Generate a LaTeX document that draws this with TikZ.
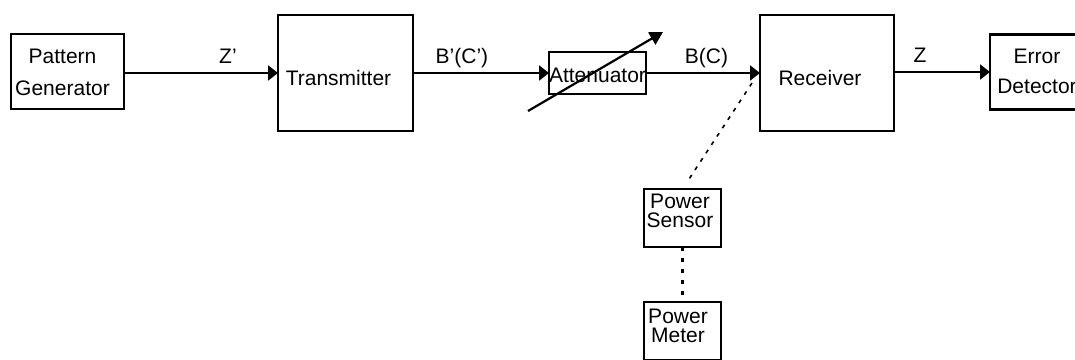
\documentclass[tikz,border=0pt]{standalone}
\usepackage{fontspec}
\setmainfont{Liberation Sans}
\usetikzlibrary{arrows.meta}

\begin{document}
\begin{tikzpicture}[x=0.5pt, y=-0.5pt,
    box/.style={draw, line width=1.2pt, inner sep=0pt, outer sep=0pt},
    txt/.style={align=center, inner sep=0pt, anchor=base, font=\fontsize{10.5}{16}\selectfont},
    tight/.style={font=\fontsize{10.5}{9.5}\selectfont},
    sig/.style={line width=1.1pt, -{Triangle[length=5pt,width=7.5pt]}},
    tap/.style={line width=0.8pt, dash pattern=on 2pt off 3pt}]
    % Page
    \useasboundingbox (0,0) rectangle (1075,359);
    \clip (0,0) rectangle (1075,359);

    % Blocks
    \node[box, minimum width=56.5pt, minimum height=37.5pt] (pg) at (67.5,71.5) {};
    \node[box, minimum width=67.5pt, minimum height=58pt] (tx) at (345.5,73) {};
    \node[box, minimum width=48.5pt, minimum height=21pt] (att) at (597.5,73) {};
    \node[box, minimum width=67pt, minimum height=58pt] (rx) at (827,73) {};
    \node[box, minimum width=56.5pt, minimum height=37.5pt] (ed) at (1046.5,72) {};
    \node[box, minimum width=38.5pt, minimum height=29pt] (ps) at (682.5,218) {};
    \node[box, minimum width=38.5pt, minimum height=29pt] (pm) at (682.5,331) {};

    % Block texts (base = last line)
    \node[txt] (pg-txt) at (62.5,95.5) {Pattern\\Generator};
    \node[txt] (tx-txt) at (338.5,85) {Transmitter};
    \node[txt] (att-txt) at (597.5,82) {Attenuator};
    \node[txt] (rx-txt) at (820,85) {Receiver};
    \node[txt] (ed-txt) at (1037,93) {Error\\[-1pt]Detector};
    \node[txt, tight] (ps-txt) at (680,227) {Power\\Sensor};
    \node[txt, tight] (pm-txt) at (678,342) {Power\\Meter};

    % Signal chain
    \foreach \a/\b/\p/\lbl in {pg/tx/0.675/Z', tx/att/0.36/B'(C'), att/rx/0.53/B(C), rx/ed/0.27/Z}
        \draw[sig] (\a.east |- \b.west) -- node[pos=\p, txt, yshift=5pt] {\lbl} (\b.west);

    % Variable attenuator arrow
    \coordinate (att-in) at (528,111);
    \coordinate (att-out) at (663,32);
    \draw[line width=1.1pt, -{Triangle[length=6.5pt,width=7pt]}] (att-in) -- (att-out);

    % Power measurement
    \coordinate (rx-tap) at (752,83);
    \draw[tap, shorten >=4pt] (rx-tap) -- (ps.north);
    \draw[tap, line width=1.4pt, dash pattern=on 2pt off 3.5pt, shorten >=2.5pt] (ps.south) -- (pm.north);
\end{tikzpicture}
\end{document}
